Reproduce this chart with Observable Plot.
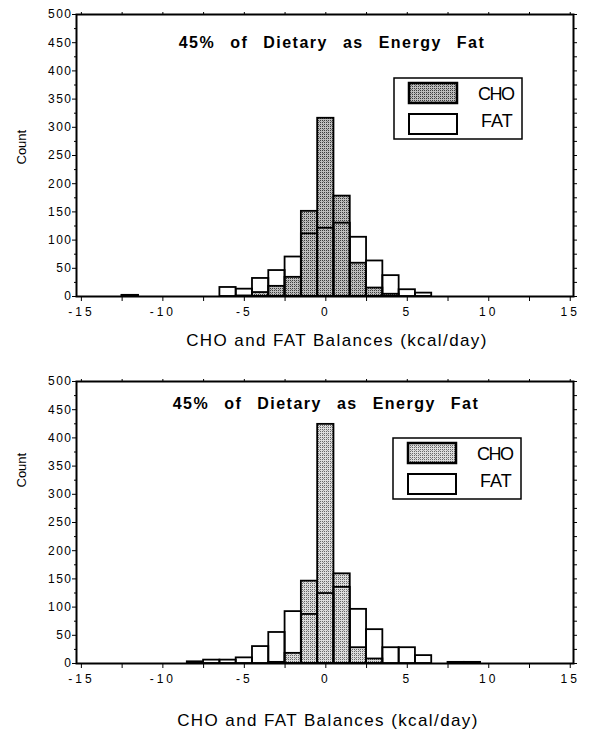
<!DOCTYPE html>
<html><head><meta charset="utf-8">
<script src="https://cdn.jsdelivr.net/npm/d3@7"></script>
<script src="https://cdn.jsdelivr.net/npm/@observablehq/plot@0.6"></script>
<style>
body{margin:0;background:#fff;}
#wrap{width:599px;}
#wrap svg{display:block;font-family:"Liberation Sans",Arial,Helvetica,sans-serif;background:#fff;}
.xlab text{letter-spacing:3px;}
.ylab text{letter-spacing:1.5px;}
.ttl text{letter-spacing:1.5px;word-spacing:9px;}
.axl text{letter-spacing:1.4px;}
</style></head><body><div id="wrap"></div>
<script>
// bin centres (kcal/day), bin width 1
const bins   = [-12, -8, -7, -6, -5, -4, -3, -2, -1,   0,   1,   2,  3,  4,  5,  6, 8, 9];
// upper panel
const topCHO = [  2,  0,  0,  0,  1,  7, 18, 34, 151, 316, 178,  59, 15,  4,  0,  0, 0, 0];
const topFAT = [  2,  0,  0, 16, 13, 32, 46, 70, 111, 121, 130, 105, 63, 37, 12,  6, 0, 0];
// lower panel
const botCHO = [  0,  0,  0,  0,  0,  0,  2, 18, 146, 424, 159,  28,  8,  0,  0,  0, 0, 0];
const botFAT = [  0,  3,  6,  6, 10, 30, 55, 92,  87, 124, 135,  96, 60, 28, 28, 14, 2, 2];

const xTicks = [-15, -10, -5, 0, 5, 10, 15];
const xMinor = [-15, -12.5, -10, -7.5, -5, -2.5, 0, 2.5, 5, 7.5, 10, 12.5, 15];
const yTicks = [0, 50, 100, 150, 200, 250, 300, 350, 400, 450, 500];
const yMinor = [25, 75, 125, 175, 225, 275, 325, 375, 425, 475];
const title = "45% of Dietary as Energy Fat";
const xLabel = "CHO and FAT Balances (kcal/day)";
const yLabel = "Count";
const legendLabels = ["CHO", "FAT"];

function chart(cho, fat, o) {
  const dCHO = bins.map((b, i) => ({x: b, y: cho[i]})).filter(d => d.y > 0);
  const dFAT = bins.map((b, i) => ({x: b, y: fat[i]})).filter(d => d.y > 0);
  const svg = Plot.plot({
    width: 599, height: 365,
    marginTop: o.mt, marginBottom: o.mb, marginLeft: 76, marginRight: 26,
    x: {domain: [-15.3, 15.2]},
    y: {domain: [0, 500]},
    style: {fontFamily: '"Liberation Sans", Arial, sans-serif', color: "black"},
    marks: [
      Plot.rectY(dCHO, {x1: d => d.x - 0.5, x2: d => d.x + 0.5, y: "y", fill: "#aaa", stroke: "black", strokeWidth: 1.8, className: "cho"}),
      Plot.rectY(dFAT, {x1: d => d.x - 0.5, x2: d => d.x + 0.5, y: "y", fill: "none", stroke: "black", strokeWidth: 1.8}),
      Plot.frame({stroke: "black", strokeWidth: 2}),
      Plot.axisX({ticks: xMinor, tickSize: 5, tickFormat: () => "", label: null}),
      Plot.axisX({ticks: xTicks, tickSize: 0, tickPadding: 11, fontSize: 12, label: null, className: "xlab", tickFormat: d => String(d)}),
      Plot.axisX({anchor: "top", ticks: xMinor, tickSize: 3, tickFormat: () => "", label: null}),
      Plot.axisY({ticks: yTicks, tickSize: 4, tickPadding: 0, fontSize: 12, label: null, className: "ylab", tickFormat: d => String(d)}),
      Plot.axisY({ticks: yMinor, tickSize: 2, tickFormat: () => "", label: null}),
      Plot.axisY({anchor: "right", ticks: yTicks.concat(yMinor), tickSize: 3, tickFormat: () => "", label: null}),
      Plot.text([title], {frameAnchor: "top", lineAnchor: "bottom", dx: o.tdx, dy: o.tdy, fontSize: 16, fontWeight: "bold", className: "ttl"}),
      Plot.text([xLabel], {frameAnchor: "bottom", lineAnchor: "bottom", dx: o.xdx, dy: o.xdy, fontSize: 17, className: "axl"}),
      Plot.text([yLabel], {frameAnchor: "left", rotate: -90, dx: -55, dy: o.ydy, fontSize: 13})
    ]
  });
  const s = d3.select(svg);
  const defs = s.insert("defs", ":first-child");
  const p = defs.append("pattern").attr("id", o.pid).attr("width", 4).attr("height", 4).attr("patternUnits", "userSpaceOnUse");
  p.append("rect").attr("width", 4).attr("height", 4).attr("fill", o.bg);
  [[0, 0], [2, 0], [0, 2], [2, 2], [3, 1]].forEach(([x, y], i) =>
    p.append("rect").attr("x", x).attr("y", y).attr("width", 1).attr("height", 1).attr("fill", i === 4 ? o.bg2 : o.dot));
  s.selectAll("g.cho rect").attr("fill", `url(#${o.pid})`);

  // legend box
  const lg = s.append("g").attr("text-anchor", "start");
  const [lx, ly] = o.leg;
  lg.append("rect").attr("x", lx).attr("y", ly).attr("width", 128).attr("height", 61)
    .attr("fill", "white").attr("stroke", "black").attr("stroke-width", 1.5);
  lg.append("rect").attr("x", lx + 15).attr("y", ly + 5).attr("width", 48).attr("height", 20)
    .attr("fill", `url(#${o.pid})`).attr("stroke", "black").attr("stroke-width", 2.5);
  lg.append("rect").attr("x", lx + 15).attr("y", ly + 36).attr("width", 48).attr("height", 20)
    .attr("fill", "white").attr("stroke", "black").attr("stroke-width", 2);
  lg.append("text").attr("x", lx + 84).attr("y", ly + 22).attr("font-size", 18)
    .attr("letter-spacing", "-1.5px").text(legendLabels[0]);
  lg.append("text").attr("x", lx + 87).attr("y", ly + 49).attr("font-size", 18)
    .text(legendLabels[1]);
  return svg;
}

const wrap = document.getElementById("wrap");
wrap.appendChild(chart(topCHO, topFAT, {mt: 14, mb: 69, tdx: 7, tdy: 33, xdx: 12, xdy: 49, ydy: 9, pid: "stipA", bg: "#bdbdbd", bg2: "#777", dot: "#3c3c3c", leg: [394, 78]}));
wrap.appendChild(chart(botCHO, botFAT, {mt: 16, mb: 67, tdx: 1, tdy: 27, xdx: 3, xdy: 62, ydy: -35, pid: "stipB", bg: "#dcdcdc", bg2: "#999", dot: "#666", leg: [393, 73]}));
</script></body></html>
